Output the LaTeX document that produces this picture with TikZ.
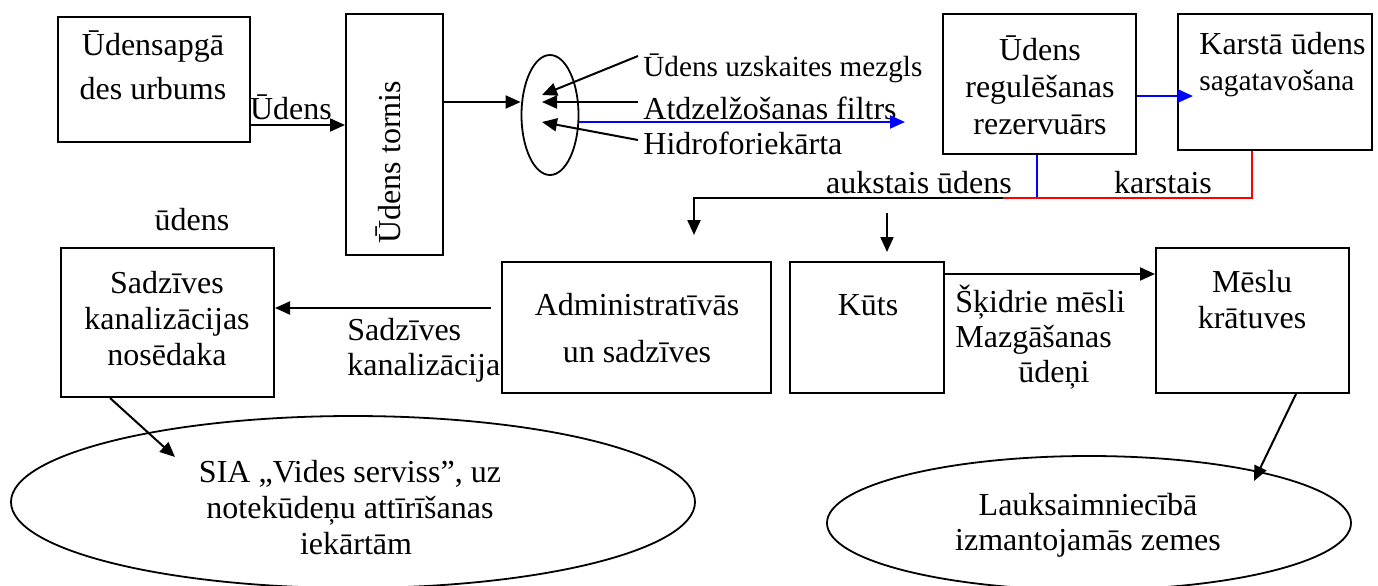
\documentclass[tikz,border=0pt]{standalone}
\usepackage{fontspec}
\setmainfont{Liberation Serif}
\usetikzlibrary{arrows.meta,shapes.geometric}
\begin{document}
\begin{tikzpicture}[x=0.5pt,y=-0.5pt,
  box/.style={draw,line width=1pt,rectangle,inner sep=0pt},
  oval/.style={draw,line width=0.9pt,ellipse,inner sep=0pt},
  txt/.style={font=\fontsize{16}{18}\selectfont,inner sep=0pt,align=center},
  arr/.style={line width=1pt,-{Triangle[length=7.5pt,width=6.5pt]}},
  barr/.style={arr,draw=blue,fill=blue},
]
\useasboundingbox (0,0) rectangle (1378,585);
% boxes
\node[box,minimum width=96pt,minimum height=62.5pt] (b1) at (154,79.5) {};
\node[box,minimum width=48.5pt,minimum height=120.5pt] (tower) at (394.5,134.5) {};
\node[box,minimum width=96.5pt,minimum height=70pt] (regul) at (1039.5,84) {};
\node[box,minimum width=97pt,minimum height=68pt] (karsta) at (1275,82) {};
\node[box,minimum width=106.5pt,minimum height=74.5pt] (nosed) at (167.5,322.5) {};
\node[box,minimum width=134.5pt,minimum height=65.5pt] (admin) at (636.5,327.5) {};
\node[box,minimum width=77pt,minimum height=65.5pt] (kuts) at (867,327.5) {};
\node[box,minimum width=96.5pt,minimum height=72.5pt] (meslu) at (1252.5,320.5) {};
\node[oval,minimum width=28.5pt,minimum height=60pt] (ell) at (550,115) {};
\node[oval,minimum width=342pt,minimum height=86pt] (ellL) at (353,502) {};
\node[oval,minimum width=262pt,minimum height=67pt] (ellR) at (1089,523) {};
% texts
\node[txt,font=\fontsize{16}{22}\selectfont] (t1) at (153,65) {Ūdensapgā\\des urbums};
\node[txt,rotate=90] (t2) at (388,162) {Ūdens tornis};
\node[txt] (l1) at (291,107) {Ūdens};
\node[txt,anchor=west,font=\fontsize{14.6}{17}\selectfont] (lab1) at (643,68) {Ūdens uzskaites mezgls};
\node[txt,anchor=west] (lab2) at (643,108) {Atdzelžošanas filtrs};
\node[txt,anchor=west] (lab3) at (643,143) {Hidroforiekārta};
\node[txt,font=\fontsize{16}{18.5}\selectfont] (t3) at (1040,85) {Ūdens\\regulēšanas\\rezervuārs};
\node[txt,anchor=west,align=left] (t4) at (1199,65) {Karstā ūdens\\{\fontsize{14.7}{18}\selectfont sagatavošana}};
\node[txt] (l2) at (919,183) {aukstais ūdens};
\node[txt] (l3) at (1163,183) {karstais};
\node[txt] (l4) at (192,220) {ūdens};
\node[txt] (t5) at (167,319) {Sadzīves\\kanalizācijas\\nosēdaka};
\node[txt,anchor=west,align=left,font=\fontsize{16}{17.5}\selectfont] (l5) at (347,350) {Sadzīves\\kanalizācija};
\node[txt,font=\fontsize{16}{23.5}\selectfont] (t6) at (637,328) {Administratīvās\\un sadzīves};
\node[txt] (t7) at (868,305) {Kūts};
\node[txt,anchor=west,align=left,font=\fontsize{16}{17.5}\selectfont] (l6) at (955,337.5) {Šķidrie mēsli\\Mazgāšanas\\\hspace*{31.5pt}ūdeņi};
\node[txt] (t8) at (1252,300) {Mēslu\\krātuves};
\node[txt] (t9) at (350,507.5) {SIA „Vides serviss”, uz\\notekūdeņu attīrīšanas\hspace*{26pt}\\\hspace*{6pt}iekārtām};
\node[txt,font=\fontsize{16}{17.5}\selectfont] (t10) at (1088,525) {Lauksaimniecībā\\izmantojamās zemes};
% coordinates
\coordinate (bluetip) at (905,122);
\coordinate (kin) at (1193,96);
\coordinate (jn) at (1003,198);
\coordinate (admtip) at (694,235);
\coordinate (kt0) at (887,213);
\coordinate (kt1) at (887,252);
\coordinate (bv0) at ([xshift=-1.25pt]regul.south);
% connectors
\draw[arr] (b1.east |- 0,125) -- (tower.west |- 0,125);
\draw[arr] (tower.east |- 0,102) -- (ell.west |- 0,102);
\draw[arr] ([xshift=-2.5pt,yshift=6pt]lab1.west) -- ([xshift=-4pt,yshift=10pt]ell.center);
\draw[arr] ([xshift=-2.5pt,yshift=3pt]lab2.west) -- ([xshift=-4pt,yshift=6.5pt]ell.center);
\draw[arr] ([xshift=-2.5pt,yshift=1.5pt]lab3.west) -- ([xshift=-4pt,yshift=-3.5pt]ell.center);
\draw[barr] (ell.east |- 0,122) -- (bluetip);
\draw[barr] (regul.east |- 0,96) -- (kin);
\draw[blue,line width=1pt] (bv0) -- (bv0 |- jn);
\draw[red,line width=1pt] ([xshift=-11.5pt]karsta.south) |- (jn);
\draw[arr] (jn) -| (admtip);
\draw[arr] (kt0) -- (kt1);
\draw[arr] (kuts.east |- 0,274) -- (meslu.west |- 0,274);
\draw[arr,shorten <=5pt] (admin.west |- 0,308) -- (nosed.east |- 0,308);
\draw[arr] ([xshift=-28.75pt]nosed.south) -- ([xshift=-89pt,yshift=22.5pt]ellL.center);
\draw[arr] ([xshift=21.75pt]meslu.south) -- ([xshift=82.5pt,yshift=21pt]ellR.center);
\end{tikzpicture}
\end{document}
